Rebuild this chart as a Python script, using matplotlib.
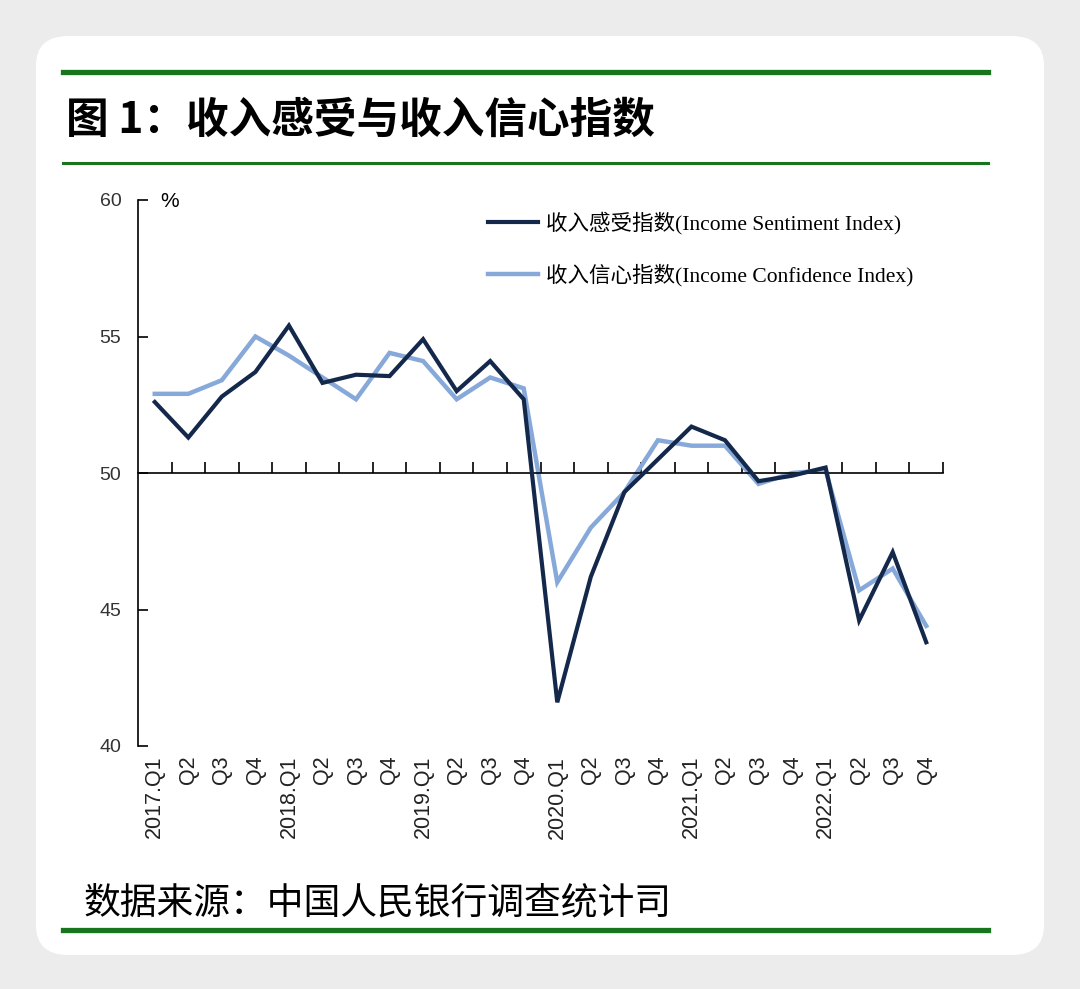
import matplotlib.pyplot as plt
from matplotlib.patches import FancyBboxPatch
from matplotlib.lines import Line2D
import matplotlib.transforms as mtransforms

quarters = ["2017.Q1", "Q2", "Q3", "Q4", "2018.Q1", "Q2", "Q3", "Q4",
            "2019.Q1", "Q2", "Q3", "Q4", "2020.Q1", "Q2", "Q3", "Q4",
            "2021.Q1", "Q2", "Q3", "Q4", "2022.Q1", "Q2", "Q3", "Q4"]
sentiment = [52.6, 51.3, 52.8, 53.7, 55.4, 53.3, 53.6, 53.55,
             54.9, 53.0, 54.1, 52.7, 41.6, 46.2, 49.3, 50.5,
             51.7, 51.2, 49.7, 49.9, 50.2, 44.6, 47.1, 43.8]
confidence = [52.9, 52.9, 53.4, 55.0, 54.3, 53.5, 52.7, 54.4,
              54.1, 52.7, 53.5, 53.1, 46.0, 48.0, 49.3, 51.2,
              51.0, 51.0, 49.6, 50.0, 50.1, 45.7, 46.5, 44.4]
yticks = [40, 45, 50, 55, 60]

W, H = 1080, 989
fig = plt.figure(figsize=(W / 100, H / 100), dpi=100)
fig.patch.set_facecolor("#ececec")

def fx(px):
    return px / W

def fy(py):
    return 1 - py / H

# white card behind everything
card = FancyBboxPatch((fx(36), fy(955)), fx(1044) - fx(36), fy(36) - fy(955),
                      boxstyle="round,pad=0,rounding_size=0.03",
                      transform=fig.transFigure, facecolor="white",
                      edgecolor="none", zorder=-10)
fig.patches.append(card)

green = "#17761b"
for y, lw in [(72, 3.8), (163, 2.2), (930, 3.8)]:
    fig.add_artist(Line2D([fx(63), fx(988)], [fy(y), fy(y)], color=green,
                          lw=lw, transform=fig.transFigure))

fig.text(fx(66), fy(120), "图 1：收入感受与收入信心指数", fontsize=30.7,
         fontweight="bold", va="center", ha="left",
         family=["Noto Sans CJK SC", "DejaVu Sans"])
fig.text(fx(84), fy(903), "数据来源：中国人民银行调查统计司", fontsize=26.5,
         va="center", ha="left", family=["Noto Sans CJK SC", "DejaVu Sans"])

ax = fig.add_axes([fx(138), fy(746), fx(943) - fx(138), fy(200) - fy(746)])
ax.set_facecolor("none")
ax.set_zorder(5)
x = list(range(len(quarters)))
ax.plot(x, sentiment, color="#14284b", lw=3.0, solid_joinstyle="miter",
        label="收入感受指数(Income Sentiment Index)", zorder=3)
ax.plot(x, confidence, color="#86a9d9", lw=3.2, solid_joinstyle="miter",
        label="收入信心指数(Income Confidence Index)", zorder=2)

ax.set_xlim(-0.5, len(quarters) - 0.5)
ax.set_ylim(40, 60)
ax.spines["top"].set_visible(False)
ax.spines["right"].set_visible(False)
ax.spines["bottom"].set_position(("data", 50))
ax.spines["left"].set_linewidth(1.2)
ax.spines["bottom"].set_linewidth(1.2)
ax.set_yticks(yticks)
ax.set_yticklabels([str(v) for v in yticks], fontsize=14,
                   family="Liberation Sans", color="#333333")
ax.tick_params(axis="y", direction="in", length=7, width=1.2, pad=12)
ax.set_xticks([i + 0.5 for i in x])
ax.tick_params(axis="x", direction="in", length=8, width=1.2, labelbottom=False)

trans = mtransforms.blended_transform_factory(ax.transData, ax.transAxes)
for i, lab in enumerate(quarters):
    ax.text(i, -0.018, lab, rotation=90, ha="center", va="top", fontsize=15.5,
            family="Liberation Sans", color="#222222", transform=trans)

ax.text(fx(181) - fx(138), 0.997, "%", transform=ax.transAxes, fontsize=15,
        ha="center", va="center", family="Liberation Sans")

leg = ax.legend(loc="upper left", bbox_to_anchor=(0.411, 1.014), frameon=False,
                handlelength=2.3, labelspacing=1.35, handletextpad=0.4,
                prop={"family": ["Liberation Serif", "Noto Sans CJK SC"], "size": 15.5})

fig.savefig("out.png", dpi=100)
